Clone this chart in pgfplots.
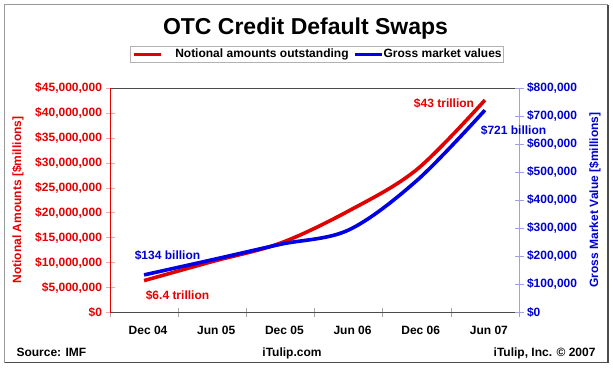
\documentclass[border=0pt]{standalone}
\usepackage{pgfplots}
\pgfplotsset{compat=1.18}
\usepackage{fontspec}
\setmainfont{Liberation Sans}
\definecolor{cred}{RGB}{224,0,0}
\definecolor{cblue}{RGB}{0,0,228}
\definecolor{tred}{RGB}{230,0,0}
\definecolor{tblue}{RGB}{0,0,210}
\definecolor{ltred}{RGB}{240,170,170}
\definecolor{ltblue}{RGB}{160,160,230}
\newcommand{\sm}{\fontsize{12}{14}\selectfont\bfseries}
\pgfplotsset{
  redleg/.style={legend image code/.code={\draw[##1] (0pt,0pt) -- (27pt,0pt); \path (40pt,0pt);}},
  blueleg/.style={legend image code/.code={\draw[##1, line width=3pt] (0pt,0pt) -- (27pt,0pt);}},
}
\begin{document}
\begin{tikzpicture}
\useasboundingbox (0,0) rectangle (613pt,368pt);
\fill[white] (0,0) rectangle (613pt,368pt);
% outer frame
\draw[gray!80, line width=0.8pt] (4.5pt,6pt) rectangle (607pt,363.5pt);
\draw[gray!60!black, line width=1.6pt] (5pt,5.5pt) -- (608pt,5.5pt) -- (608pt,363pt);
% title
\node[anchor=base, font=\fontsize{23}{26}\selectfont\bfseries] at (305.5pt,333.5pt) {OTC Credit Default Swaps};

\begin{axis}[
  at={(110pt,55.5pt)}, anchor=south west,
  scale only axis, width=409pt, height=224.5pt,
  xmin=-0.5, xmax=5.5, ymin=0, ymax=45000000,
  scaled y ticks=false,
  separate axis lines,
  x axis line style={gray!60!black, line width=0.6pt},
  y axis line style={tred, line width=0.5pt},
  tick pos=left,
  tick align=center,
  major tick length=9pt,
  xtick={-0.5,0.5,1.5,2.5,3.5,4.5,5.5},
  x tick label as interval,
  xticklabels={Dec 04,Jun 05,Dec 05,Jun 06,Dec 06,Jun 07},
  x tick style={gray!70, line width=0.5pt},
  xticklabel style={font=\sm, text=black, xshift=4pt, yshift=-6pt},
  ytick={0,5000000,10000000,15000000,20000000,25000000,30000000,35000000,40000000,45000000},
  yticklabels={{\$0},{\$5,000,000},{\$10,000,000},{\$15,000,000},{\$20,000,000},{\$25,000,000},{\$30,000,000},{\$35,000,000},{\$40,000,000},{\$45,000,000}},
  y tick style={ltred, line width=0.5pt},
  yticklabel style={font=\sm, text=tred},
  clip=false,
]
\addplot[color=cred, line width=3.6pt, smooth, tension=0.55] coordinates {
  (0,6396000) (1,10211000) (2,13908000) (3,20352000) (4,28650000) (5,42580000)};
\end{axis}

\begin{axis}[
  at={(110pt,55.5pt)}, anchor=south west,
  scale only axis, width=409pt, height=224.5pt,
  xmin=-0.5, xmax=5.5, ymin=0, ymax=800000,
  scaled y ticks=false,
  axis x line=none,
  axis y line*=right,
  y axis line style={ltblue, line width=0.8pt, -},
  tick align=center,
  major tick length=9pt,
  ytick={0,100000,200000,300000,400000,500000,600000,700000,800000},
  yticklabels={{\$0},{\$100,000},{\$200,000},{\$300,000},{\$400,000},{\$500,000},{\$600,000},{\$700,000},{\$800,000}},
  y tick style={ltblue, line width=0.5pt},
  yticklabel style={font=\sm, text=tblue},
  clip=false,
  legend columns=2,
  legend style={at={(0.506,1.15)}, anchor=center, draw=gray!60, line width=0.6pt, fill=white,
    font=\sm, inner xsep=2pt, inner ysep=1pt,
    nodes={inner xsep=0pt, inner ysep=2pt},
    /tikz/column 2/.style={column sep=5pt}},
]
\addlegendimage{color=cred, line width=3pt, redleg}
\addlegendentry{Notional amounts outstanding}
\addplot[color=cblue, line width=3.6pt, smooth, tension=0.55, blueleg] coordinates {
  (0,134000) (1,188000) (2,243000) (3,294000) (4,470000) (5,721000)};
\addlegendentry{Gross market values}
\end{axis}

% axis titles
\node[rotate=90, font=\sm, text=tred] at (18pt,168pt) {Notional Amounts [\$millions]};
\node[rotate=90, font=\sm, text=tblue] at (595pt,168pt) {Gross Market Value [\$millions]};
% annotations
\node[font=\sm, text=tred] at (444pt,265pt) {\$43 trillion};
\node[font=\sm, text=tblue] at (513.5pt,238pt) {\$721 billion};
\node[font=\sm, text=tblue] at (167.5pt,113pt) {\$134 billion};
\node[font=\sm, text=tred] at (177.5pt,73pt) {\$6.4 trillion};
% footer
\node[font=\sm, anchor=base west] at (13pt,11.7pt) {Source: IMF};
\node[font=\sm, anchor=base] at (292pt,11.7pt) {iTulip.com};
\node[font=\sm, anchor=base east] at (599pt,11.7pt) {iTulip, Inc. \textcopyright{} 2007};
\end{tikzpicture}
\end{document}
